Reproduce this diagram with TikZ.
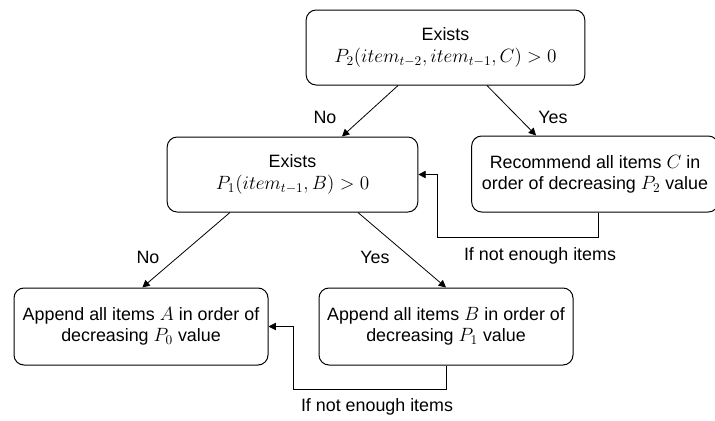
\documentclass[tikz,border=0pt]{standalone}
\usepackage{fontspec}
\newfontfamily\flowsans{Liberation Sans}
\usetikzlibrary{positioning,arrows.meta}

% slightly larger maths inside the boxes
\newcommand{\flowmath}[1]{{\fontsize{14.4}{16}\selectfont$#1$}}

\tikzset{
  step box/.style={draw,rounded corners=7.5pt,line width=0.75pt,align=center,
    inner sep=0pt,font=\flowsans\fontsize{13.4}{16}\selectfont},
  flow/.style={-{Triangle[length=5.5pt,width=5.5pt]},line width=0.6pt},
  flow label/.style={font=\flowsans\fontsize{13.4}{15}\selectfont,inner sep=1pt}
}

\begin{document}
\begin{tikzpicture}[x=0.75pt,y=-0.75pt]
  \useasboundingbox (0,0) rectangle (715,421);

  % decisions
  \node[step box,minimum width=209pt,minimum height=56.25pt] (exists2) at (445.5,47.5)
    {Exists\\\flowmath{P_2(item_{t-2}, item_{t-1}, C) > 0}};
  \node[step box,minimum width=188pt,minimum height=56.25pt] (exists1) at (292.5,174.5)
    {Exists\\\flowmath{P_1(item_{t-1}, B) > 0}};

  % actions
  \node[step box,minimum width=185pt,minimum height=57pt] (recC) at (595,174)
    {Recommend all items \flowmath{C} in\\order of decreasing \flowmath{P_2} value};
  \node[step box,minimum width=190.5pt,minimum height=57.75pt] (appendA) at (141,326.5)
    {Append all items \flowmath{A} in order of\\decreasing \flowmath{P_0} value};
  \node[step box,minimum width=190.5pt,minimum height=57.75pt] (appendB) at (446,326.5)
    {Append all items \flowmath{B} in order of\\decreasing \flowmath{P_1} value};

  % branches
  \draw[flow] ([xshift=-35.6pt]exists2.south) -- ([xshift=37.1pt]exists1.north);
  \draw[flow] ([xshift=31.1pt]exists2.south) -- ([xshift=-44.2pt]recC.north);
  \draw[flow] ([xshift=-46.9pt]exists1.south) -- ([xshift=1pt]appendA.north);
  \draw[flow] ([xshift=49.1pt]exists1.south) -- (appendB.north);
  \node[flow label] (no2) at (325,117) {No};
  \node[flow label] (yes2) at (553,117) {Yes};
  \node[flow label] (no1) at (148,257) {No};
  \node[flow label] (yes1) at (375,257) {Yes};

  % fall-back loops
  \coordinate (backC) at (437,237);
  \draw[flow] ([xshift=2.2pt]recC.south) |- (backC) |- (exists1.east);
  \node[flow label] (moreC) at (540,256) {If not enough items};
  \coordinate (backB) at (293,389);
  \draw[flow] (appendB.south) |- (backB) |- (appendA.east);
  \node[flow label] (moreB) at (377,407) {If not enough items};
\end{tikzpicture}
\end{document}
